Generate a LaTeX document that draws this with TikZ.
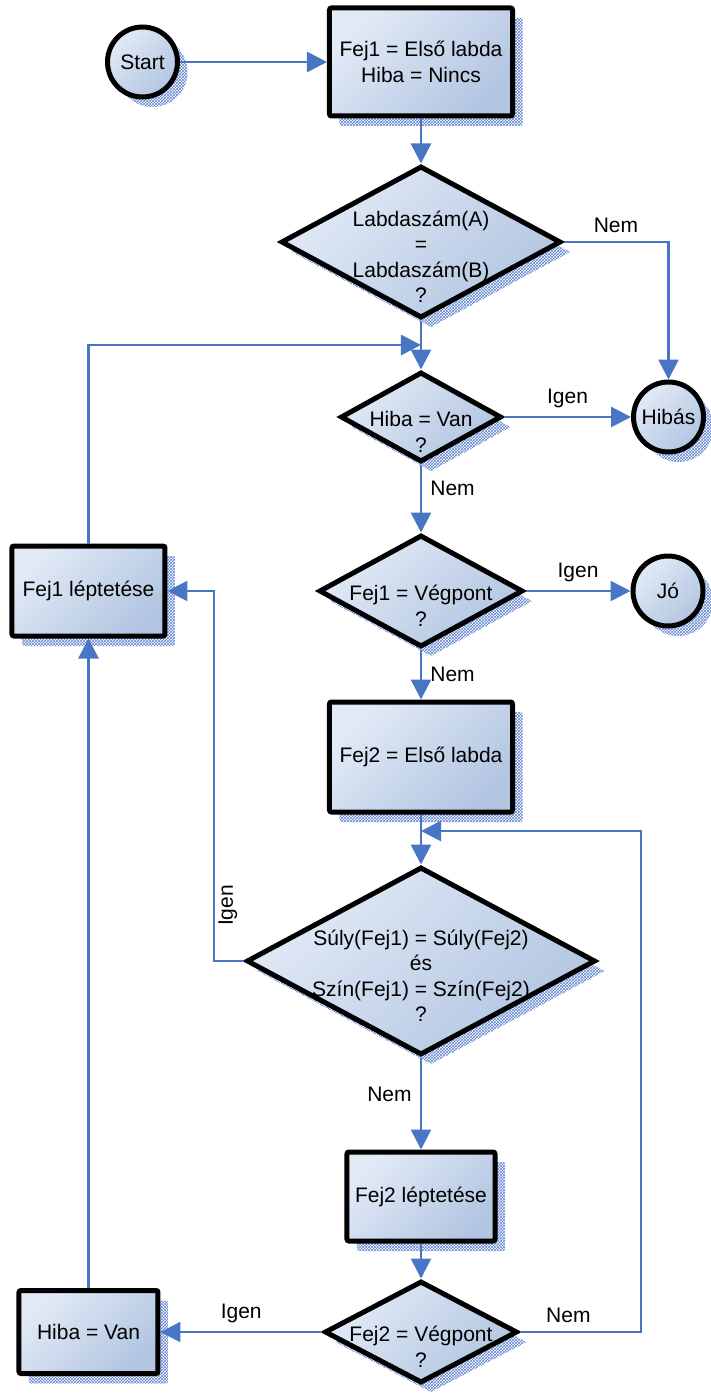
\documentclass[tikz,border=0pt]{standalone}
\usepackage{fontspec}
\setmainfont{Liberation Sans}
\usetikzlibrary{
        arrows.meta,
        calc,
        patterns,
        positioning,
        shadows,
        shapes.geometric
    }
\definecolor{flowblue}{RGB}{72,118,196}
\definecolor{boxlight}{RGB}{226,234,246}
\definecolor{boxdark}{RGB}{178,197,225}
\definecolor{shadowblue}{RGB}{95,130,208}

% text of a decision, kept out of the size of the diamond
\newcommand{\qlines}[1]{\makebox[0pt]{\smash{\raisebox{-22.5pt}{\begin{tabular}{@{}c@{}}#1\end{tabular}}}}}

\tikzset{node distance=40pt}
\tikzset{
    base/.style={draw=black,line width=5pt,inner sep=0pt,
        top color=boxlight,bottom color=boxdark,shading angle=45,
        drop shadow={shadow xshift=10pt,shadow yshift=-10pt,opacity=1,
            pattern=crosshatch,pattern color=shadowblue},
        font=\fontsize{21}{25.5}\selectfont},
    process/.style={base,rectangle,rounded corners=2pt,align=center},
    decision/.style={base,diamond,line join=miter},
    terminal/.style={base,circle,minimum size=70pt},
    flow/.style={color=flowblue,line width=2.8pt,-{Triangle[length=20pt,width=20pt]}},
    lbl/.style={font=\fontsize{21}{25.5}\selectfont,inner sep=8pt,text=black}
}

\begin{document}
\begin{tikzpicture}[x=1pt,y=1pt]
    \useasboundingbox (-421,62) rectangle (290,-1335);
    \node[process,minimum width=183pt,minimum height=108pt] (init) {Fej1 = Első labda\\Hiba = Nincs};
    \node[terminal] (start) [left=147pt of init] {Start};
    \node[decision,minimum width=280pt,minimum height=152pt] (d1) [below=45pt of init]
        {\qlines{Labdaszám(A)\\=\\Labdaszám(B)\\?}};
    \node[decision,minimum width=161pt,minimum height=90pt] (d2) [below=49pt of d1]
        {\qlines{Hiba = Van\\?}};
    \node[terminal] (hibas) [right=127pt of d2] {Hibás};
    \node[decision,minimum width=204pt,minimum height=112pt] (d3) [below=68pt of d2]
        {\qlines{Fej1 = Végpont\\?}};
    \node[terminal] (jo) [right=105pt of d3] {Jó};
    \node[process,minimum width=153pt,minimum height=90pt] (leptet1) [left=149pt of d3] {Fej1 léptetése};
    \node[process,minimum width=183pt,minimum height=110pt] (init2) [below=50pt of d3] {Fej2 = Első labda};
    \node[decision,minimum width=349pt,minimum height=188pt] (d4) [below=50pt of init2]
        {\qlines{Súly(Fej1) = Súly(Fej2)\\és\\Szín(Fej1) = Szín(Fej2)\\?}};
    \node[process,minimum width=148pt,minimum height=89pt] (leptet2) [below=92pt of d4] {Fej2 léptetése};
    \node[decision,minimum width=193pt,minimum height=102pt] (d5) [below=35pt of leptet2]
        {\qlines{Fej2 = Végpont\\?}};
    \node[process,minimum width=139pt,minimum height=83pt] (hibavan) [left=161.5pt of d5] {Hiba = Van};

    \coordinate (j1) at ($(d1.south)!0.5!(d2.north)$);
    \coordinate (j2) at ($(init2.south)!0.33!(d4.north)$);
    \coordinate (c1) at ([xshift=-30pt]d4.west);
    \coordinate (c2) at ([xshift=121pt]d5.east);

    \path[flow]
        (start) edge (init)
        (init) edge (d1)
        (d1) edge (d2)
        (d2) edge node[lbl,above] {Igen} (hibas)
        (d2) edge node[lbl,right,pos=0.35] {Nem} (d3)
        (d3) edge node[lbl,above] {Igen} (jo)
        (d3) edge node[lbl,right] {Nem} (init2)
        (init2) edge (d4)
        (d4) edge node[lbl,left,pos=0.4] {Nem} (leptet2)
        (leptet2) edge (d5)
        (d5) edge node[lbl,above] {Igen} (hibavan)
        (hibavan) edge (leptet1);
    \draw[flow] (d1.east) -| node[lbl,above,pos=0.25] {Nem} (hibas);
    \draw[flow] (leptet1) |- (j1);
    \draw[flow] (d4.west) -- (c1) -- node[lbl,rotate=90,anchor=north,inner sep=3pt,pos=0.15] {Igen} (c1 |- leptet1) -- (leptet1);
    \draw[flow] (d5.east) -- node[lbl,above,pos=0.4] {Nem} (c2) |- (j2);
\end{tikzpicture}
\end{document}
